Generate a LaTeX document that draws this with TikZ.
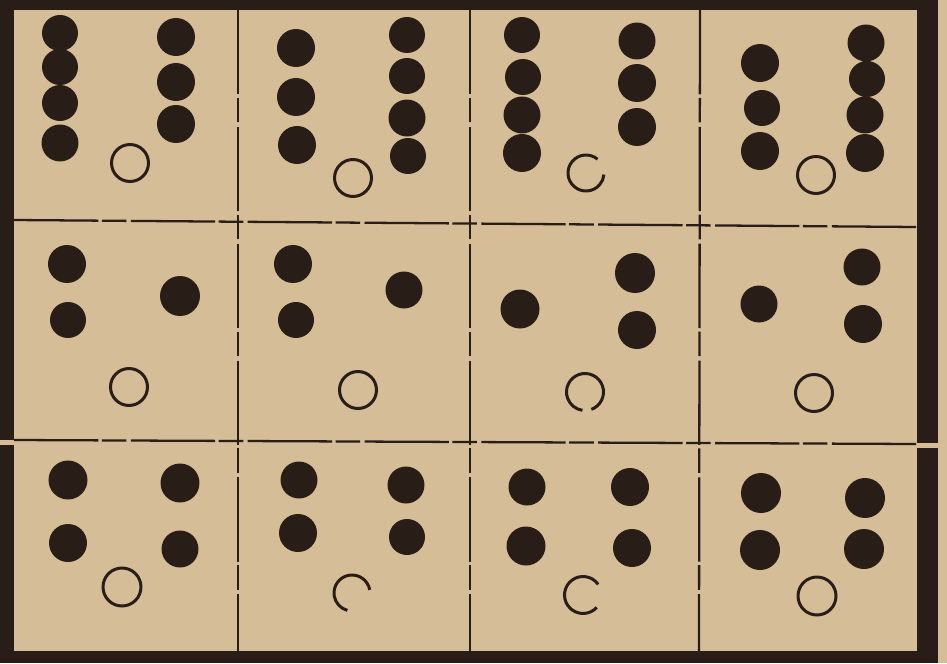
\documentclass[tikz,border=0pt]{standalone}
\usepackage[dvipsnames]{xcolor}
\usepackage{tikz}
\usetikzlibrary{calc}

\definecolor{paper}{RGB}{213,189,151}
\definecolor{ink}{RGB}{40,29,23}

\tikzset{
  pip/.style={fill=ink},
  hole/.style={draw=ink,line width=1.7pt},
  gridline/.style={draw=ink,line width=1.3pt,dash pattern=on 48pt off 2pt on 14pt off 2.5pt}
}

\begin{document}
\begin{tikzpicture}[x=0.02cm,y=-0.02cm]
    \useasboundingbox (0,0) rectangle (947,663);
    \fill[paper] (0,0) rectangle (947,663);

    % frame
    \fill[ink] (0,0) rectangle (920,10);
    \fill[ink] (0,0) rectangle (14,440);
    \fill[ink] (0,445) rectangle (14,663);
    \fill[ink] (14,651) rectangle (917,663);
    \fill[ink] (917,0) rectangle (938,443);
    \fill[ink] (917,448) rectangle (938,663);

    % grid
    \draw[gridline] (238,10) -- (238,651);
    \draw[gridline] (470,10) -- (470,651);
    \draw[gridline] (700,10) -- (699,651);
    \draw[gridline] (14,220) -- (917,227);
    \draw[gridline] (14,440) -- (917,444);

    % top row
    \fill[pip] (60,33) circle[radius=.36cm] (60,67) circle[radius=.36cm] (60,103) circle[radius=.36cm] (60,143) circle[radius=.37cm];
    \fill[pip] (176,37) circle[radius=.38cm] (176,82) circle[radius=.38cm] (176,124) circle[radius=.38cm];
    \draw[hole] (130,163) circle[radius=.37cm];

    \fill[pip] (296,48) circle[radius=.38cm] (296,97) circle[radius=.38cm] (297,145) circle[radius=.38cm];
    \fill[pip] (407,35) circle[radius=.36cm] (407,76) circle[radius=.36cm] (407,118) circle[radius=.37cm] (408,156) circle[radius=.36cm];
    \draw[hole] (353,178) circle[radius=.37cm];

    \fill[pip] (522,35) circle[radius=.36cm] (523,77) circle[radius=.36cm] (522,115) circle[radius=.37cm] (522,153) circle[radius=.38cm];
    \fill[pip] (637,41) circle[radius=.37cm] (637,83) circle[radius=.38cm] (637,127) circle[radius=.38cm];
    \draw[hole] ($(586,173)+(50:.36cm)$) arc[start angle=50,end angle=355,radius=.36cm];

    \fill[pip] (760,63) circle[radius=.38cm] (762,108) circle[radius=.36cm] (760,151) circle[radius=.38cm];
    \fill[pip] (866,43) circle[radius=.37cm] (867,79) circle[radius=.36cm] (865,115) circle[radius=.37cm] (865,153) circle[radius=.38cm];
    \draw[hole] (816,175) circle[radius=.37cm];

    % middle row
    \fill[pip] (67,264) circle[radius=.38cm] (68,320) circle[radius=.36cm] (180,296) circle[radius=.4cm];
    \draw[hole] (129,387) circle[radius=.37cm];

    \fill[pip] (293,264) circle[radius=.38cm] (296,320) circle[radius=.36cm] (404,290) circle[radius=.37cm];
    \draw[hole] (358,390) circle[radius=.37cm];

    \fill[pip] (520,309) circle[radius=.39cm] (635,273) circle[radius=.4cm] (637,330) circle[radius=.38cm];
    \draw[hole] ($(585,392)+(-70:.37cm)$) arc[start angle=-70,end angle=262,radius=.37cm];

    \fill[pip] (759,304) circle[radius=.37cm] (862,267) circle[radius=.37cm] (863,324) circle[radius=.38cm];
    \draw[hole] (814,393) circle[radius=.37cm];

    % bottom row
    \fill[pip] (68,480) circle[radius=.39cm] (180,483) circle[radius=.39cm] (68,543) circle[radius=.38cm] (180,549) circle[radius=.37cm];
    \draw[hole] (122,587) circle[radius=.38cm];

    \fill[pip] (299,480) circle[radius=.37cm] (406,485) circle[radius=.37cm] (298,533) circle[radius=.38cm] (407,537) circle[radius=.36cm];
    \draw[hole] ($(352,593)+(10:.36cm)$) arc[start angle=10,end angle=255,radius=.36cm];

    \fill[pip] (527,487) circle[radius=.37cm] (630,487) circle[radius=.38cm] (526,546) circle[radius=.39cm] (632,548) circle[radius=.38cm];
    \draw[hole] ($(583,595)+(35:.37cm)$) arc[start angle=35,end angle=318,radius=.37cm];

    \fill[pip] (761,493) circle[radius=.4cm] (865,498) circle[radius=.4cm] (760,550) circle[radius=.4cm] (864,549) circle[radius=.4cm];
    \draw[hole] (817,596) circle[radius=.38cm];
\end{tikzpicture}
\end{document}
